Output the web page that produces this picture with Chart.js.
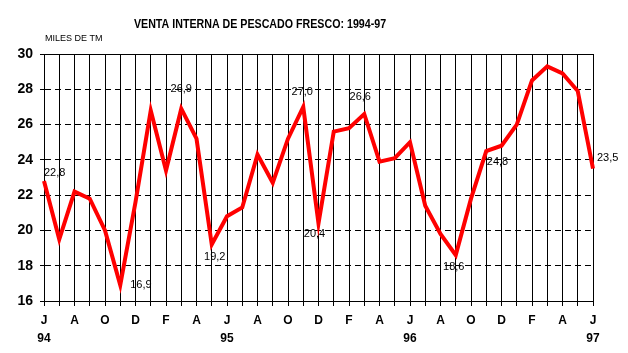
<!DOCTYPE html>
<html>
<head>
<meta charset="utf-8">
<script src="https://cdn.jsdelivr.net/npm/chart.js@4/dist/chart.umd.min.js"></script>
<style>
  html, body { margin: 0; padding: 0; background: #ffffff; }
  #wrap { width: 628px; height: 353px; position: relative; }
</style>
</head>
<body>
<div id="wrap"><canvas id="c" width="628" height="353"></canvas></div>
<script>
// ---- DATA ----
const months = ['J','J','A','S','O','N','D','E','F','M','A','M',
                'J','J','A','S','O','N','D','E','F','M','A','M',
                'J','J','A','S','O','N','D','E','F','M','A','M',
                'J'];
const years = ['94','','','','','','','','','','','',
               '95','','','','','','','','','','','',
               '96','','','','','','','','','','','',
               '97'];
const ventas = [22.8, 19.5, 22.2, 21.8, 20.0, 16.9, 21.6, 26.8, 23.4, 26.9, 25.2, 19.2,
                20.8, 21.3, 24.3, 22.7, 25.2, 27.0, 20.4, 25.6, 25.8, 26.6, 23.9, 24.1,
                25.0, 21.4, 19.8, 18.6, 21.8, 24.5, 24.8, 26.0, 28.5, 29.3, 28.9, 27.9, 23.5];
const labeledPoints = [0, 5, 9, 11, 17, 18, 21, 27, 30, 36];
const yTicks = [16, 18, 20, 22, 24, 26, 28, 30];
const titleText = 'VENTA INTERNA DE PESCADO FRESCO: 1994-97';
const unitText = 'MILES DE TM';

// ---- FONTS ----
function hasFont(name) {
  const c = document.createElement('canvas').getContext('2d');
  c.font = '20px monospace';
  const a = c.measureText('VENTA INTERNA 1994').width;
  c.font = '20px "' + name + '", monospace';
  const b = c.measureText('VENTA INTERNA 1994').width;
  return Math.abs(a - b) > 0.5;
}
const narrow = hasFont('Liberation Sans Narrow') ? '"Liberation Sans Narrow"' : null;
const baseFam = '"Liberation Sans", Arial, sans-serif';
const boldFam = narrow ? narrow + ', ' + baseFam : baseFam;

// ---- PLUGINS ----
const labelPlacement = {
  0:  {align: 'left',   dx: 0,  dy: -8},
  5:  {align: 'left',   dx: 10, dy: 0},
  9:  {align: 'center', dx: 0,  dy: -20},
  11: {align: 'center', dx: 3,  dy: 12},
  17: {align: 'center', dx: -1, dy: -15},
  18: {align: 'center', dx: -4, dy: 11},
  21: {align: 'center', dx: -4, dy: -17},
  27: {align: 'center', dx: -2, dy: 12},
  30: {align: 'center', dx: -4, dy: 16},
  36: {align: 'left',   dx: 4,  dy: -11}
};

const decor = {
  id: 'decor',
  beforeDraw(chart) {
    const ctx = chart.ctx;
    ctx.save();
    ctx.fillStyle = '#ffffff';
    ctx.fillRect(0, 0, chart.width, chart.height);
    ctx.restore();
  },
  afterDraw(chart) {
    const ctx = chart.ctx;
    const a = chart.chartArea;
    ctx.save();
    // solid top frame line
    ctx.strokeStyle = '#000';
    ctx.lineWidth = 1;
    ctx.beginPath();
    const ty = Math.round(a.top) + 0.5;
    ctx.moveTo(a.left, ty);
    ctx.lineTo(a.right, ty);
    ctx.stroke();
    // title (condensed to mimic the narrow bold face)
    ctx.fillStyle = '#000';
    ctx.textBaseline = 'middle';
    ctx.textAlign = 'center';
    ctx.font = 'bold 13px ' + boldFam;
    ctx.save();
    ctx.translate(260, 24);
    if (!narrow) ctx.scale(0.82, 1);
    ctx.fillText(titleText, 0, 0);
    ctx.restore();
    // unit
    ctx.textAlign = 'left';
    ctx.font = '9px ' + baseFam;
    ctx.fillText(unitText, 45, 39);
    ctx.restore();
  },
  afterDatasetsDraw(chart) {
    const ctx = chart.ctx;
    const meta = chart.getDatasetMeta(0);
    ctx.save();
    ctx.fillStyle = '#000';
    ctx.font = '11px ' + baseFam;
    ctx.textBaseline = 'middle';
    labeledPoints.forEach(i => {
      const p = meta.data[i];
      const pl = labelPlacement[i] || {align: 'center', dx: 0, dy: -12};
      ctx.textAlign = pl.align;
      ctx.fillText(ventas[i].toFixed(1).replace('.', ','), p.x + pl.dx, p.y + pl.dy);
    });
    ctx.restore();
  }
};

new Chart(document.getElementById('c'), {
  type: 'line',
  data: {
    labels: months,
    datasets: [{
      data: ventas,
      borderColor: '#ff0000',
      backgroundColor: '#ff0000',
      borderWidth: 4,
      pointRadius: 0,
      tension: 0,
      borderJoinStyle: 'miter',
      fill: false
    }]
  },
  options: {
    responsive: false,
    animation: false,
    layout: { padding: { top: 54, right: 35, left: 0, bottom: 0 } },
    plugins: { legend: { display: false }, title: { display: false }, tooltip: { enabled: false } },
    scales: {
      x: {
        type: 'category',
        offset: false,
        afterFit(scale) { scale.height = 52; },
        grid: {
          display: true,
          color: '#000',
          lineWidth: 1,
          drawOnChartArea: true,
          drawTicks: true,
          tickLength: 5,
          tickColor: '#000',
          offset: false
        },
        border: { display: true, color: '#000', width: 1 },
        ticks: {
          autoSkip: false,
          maxRotation: 0,
          minRotation: 0,
          padding: 6,
          color: '#000',
          font: { family: boldFam, size: 12, weight: 'bold', lineHeight: 1.5 },
          callback(val, i) {
            if (i % 2 !== 0) return '';
            return years[i] ? [months[i], years[i]] : months[i];
          }
        }
      },
      y: {
        min: 16,
        max: 30,
        afterFit(scale) { scale.width = 44; },
        afterBuildTicks(scale) { scale.ticks = yTicks.map(v => ({ value: v })); },
        grid: {
          color: '#000',
          lineWidth: 1,
          drawTicks: true,
          tickLength: 4,
          tickColor: '#000',
          tickBorderDash: []
        },
        border: { display: true, color: '#000', width: 1, dash: [6, 4] },
        ticks: {
          padding: 7,
          color: '#000',
          font: { family: boldFam, size: 14, weight: 'bold' }
        }
      }
    }
  },
  plugins: [decor]
});
</script>
</body>
</html>
